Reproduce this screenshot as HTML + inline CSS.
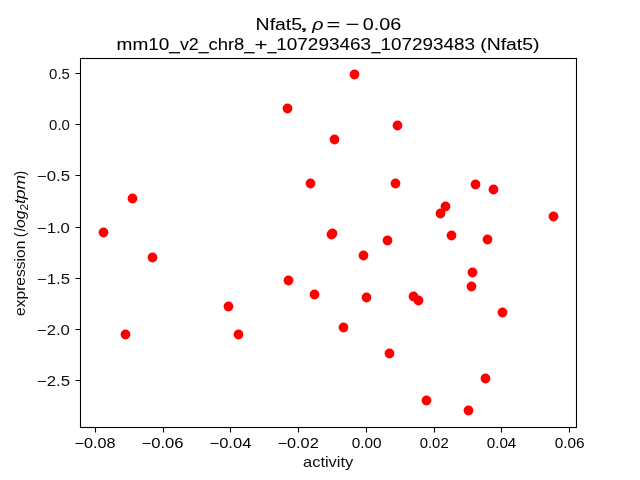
<!DOCTYPE html>
<html lang="en">
<head>
<meta charset="utf-8">
<title>Nfat5 activity vs expression</title>
<style>
html,body{margin:0;padding:0;background:#fff;}
body{width:640px;height:480px;overflow:hidden;font-family:"Liberation Sans",sans-serif;}
svg{display:block;will-change:transform;}
text{font-family:"Liberation Sans",sans-serif;fill:#000;}
.title text{stroke:#000;stroke-width:0.07px;}
.yticklabels text,.xlabel text,.ylabel text{fill:#0e0e0e;}
.dots circle{fill:#ff0000;}
.frame,.ticks path{stroke:#000;fill:none;}
</style>
</head>
<body>
<svg width="640" height="480" viewBox="0 0 640 480">
<rect x="0" y="0" width="640" height="480" fill="#ffffff"/>
<g class="title">
<text y="30.0" font-size="17.0"><tspan x="255.60" textLength="46.51" lengthAdjust="spacingAndGlyphs">Nfat5</tspan><tspan x="298.70" textLength="10.19" lengthAdjust="spacingAndGlyphs">,</tspan> <tspan x="312.18" font-style="italic" textLength="11.22" lengthAdjust="spacingAndGlyphs">ρ</tspan> <tspan x="326.55" textLength="13.70" lengthAdjust="spacingAndGlyphs">=</tspan> <tspan x="345.52" textLength="13.94" lengthAdjust="spacingAndGlyphs">−</tspan><tspan x="362.73" textLength="38.44" lengthAdjust="spacingAndGlyphs">0.06</tspan></text>
<text y="50.0" font-size="17.0"><tspan x="116.64" textLength="63.25" lengthAdjust="spacingAndGlyphs">mm10_</tspan><tspan x="179.94" textLength="28.66" lengthAdjust="spacingAndGlyphs">v2_</tspan><tspan x="208.52" textLength="46.08" lengthAdjust="spacingAndGlyphs">chr8_</tspan><tspan x="254.61" textLength="12.98" lengthAdjust="spacingAndGlyphs">+</tspan><tspan x="267.54" textLength="8.97" lengthAdjust="spacingAndGlyphs">_</tspan><tspan x="276.26" textLength="94.88" lengthAdjust="spacingAndGlyphs">107293463</tspan><tspan x="371.54" textLength="8.97" lengthAdjust="spacingAndGlyphs">_</tspan><tspan x="380.56" textLength="94.47" lengthAdjust="spacingAndGlyphs">107293483</tspan> <tspan x="480.20" textLength="59.31" lengthAdjust="spacingAndGlyphs">(Nfat5)</tspan></text>
</g>
<g class="dots">
<circle cx="132.5" cy="198.5" r="4.88"/>
<circle cx="103.5" cy="232.5" r="4.88"/>
<circle cx="152.5" cy="257.5" r="4.88"/>
<circle cx="125.5" cy="334.5" r="4.88"/>
<circle cx="228.5" cy="306.5" r="4.88"/>
<circle cx="238.5" cy="334.5" r="4.88"/>
<circle cx="354.5" cy="74.5" r="4.88"/>
<circle cx="287.5" cy="108.5" r="4.88"/>
<circle cx="334.5" cy="139.5" r="4.88"/>
<circle cx="397.5" cy="125.5" r="4.88"/>
<circle cx="310.5" cy="183.5" r="4.88"/>
<circle cx="395.5" cy="183.5" r="4.88"/>
<circle cx="331.5" cy="234.5" r="4.88"/>
<circle cx="332.5" cy="233.5" r="4.88"/>
<circle cx="387.5" cy="240.5" r="4.88"/>
<circle cx="363.5" cy="255.5" r="4.88"/>
<circle cx="288.5" cy="280.5" r="4.88"/>
<circle cx="314.5" cy="294.5" r="4.88"/>
<circle cx="366.5" cy="297.5" r="4.88"/>
<circle cx="343.5" cy="327.5" r="4.88"/>
<circle cx="389.5" cy="353.5" r="4.88"/>
<circle cx="475.5" cy="184.5" r="4.88"/>
<circle cx="493.5" cy="189.5" r="4.88"/>
<circle cx="445.5" cy="206.5" r="4.88"/>
<circle cx="440.5" cy="213.5" r="4.88"/>
<circle cx="553.5" cy="216.5" r="4.88"/>
<circle cx="451.5" cy="235.5" r="4.88"/>
<circle cx="487.5" cy="239.5" r="4.88"/>
<circle cx="472.5" cy="272.5" r="4.88"/>
<circle cx="471.5" cy="286.5" r="4.88"/>
<circle cx="413.5" cy="296.5" r="4.88"/>
<circle cx="418.5" cy="300.5" r="4.88"/>
<circle cx="502.5" cy="312.5" r="4.88"/>
<circle cx="485.5" cy="378.5" r="4.88"/>
<circle cx="426.5" cy="400.5" r="4.88"/>
<circle cx="468.5" cy="410.5" r="4.88"/>
</g>
<rect class="frame" x="80.5" y="58.5" width="496" height="369" stroke-width="1.1"/>
<g class="ticks" stroke-width="1.1">
<path d="M95.5 428V432.5M163.5 428V432.5M230.5 428V432.5M298.5 428V432.5M366.5 428V432.5M434.5 428V432.5M501.5 428V432.5M569.5 428V432.5"/>
<path d="M80 73.5H75.5M80 124.5H75.5M80 175.5H75.5M80 227.5H75.5M80 278.5H75.5M80 329.5H75.5M80 380.5H75.5"/>
</g>
<g class="xticklabels">
<text x="74.50" y="448.00" font-size="14.10" textLength="41.11" lengthAdjust="spacingAndGlyphs">−0.08</text>
<text x="141.48" y="448.00" font-size="14.10" textLength="42.15" lengthAdjust="spacingAndGlyphs">−0.06</text>
<text x="209.48" y="448.00" font-size="14.10" textLength="41.90" lengthAdjust="spacingAndGlyphs">−0.04</text>
<text x="277.50" y="448.00" font-size="14.10" textLength="41.22" lengthAdjust="spacingAndGlyphs">−0.02</text>
<text x="351.70" y="448.00" font-size="14.10" textLength="29.80" lengthAdjust="spacingAndGlyphs">0.00</text>
<text x="419.72" y="448.00" font-size="14.10" textLength="28.93" lengthAdjust="spacingAndGlyphs">0.02</text>
<text x="486.71" y="448.00" font-size="14.10" textLength="29.64" lengthAdjust="spacingAndGlyphs">0.04</text>
<text x="554.70" y="448.00" font-size="14.10" textLength="29.87" lengthAdjust="spacingAndGlyphs">0.06</text>
</g>
<g class="yticklabels">
<text x="49.12" y="79.00" font-size="14.10" textLength="20.81" lengthAdjust="spacingAndGlyphs">0.5</text>
<text x="49.12" y="130.00" font-size="14.10" textLength="20.77" lengthAdjust="spacingAndGlyphs">0.0</text>
<text x="36.87" y="181.00" font-size="14.10" textLength="33.13" lengthAdjust="spacingAndGlyphs">−0.5</text>
<text x="36.87" y="233.00" font-size="14.10" textLength="33.08" lengthAdjust="spacingAndGlyphs">−1.0</text>
<text x="36.87" y="284.00" font-size="14.10" textLength="33.13" lengthAdjust="spacingAndGlyphs">−1.5</text>
<text x="36.87" y="335.00" font-size="14.10" textLength="33.08" lengthAdjust="spacingAndGlyphs">−2.0</text>
<text x="36.87" y="386.00" font-size="14.10" textLength="33.13" lengthAdjust="spacingAndGlyphs">−2.5</text>
</g>
<g class="xlabel"><text x="303.00" y="467.00" font-size="14.10" textLength="50.33" lengthAdjust="spacingAndGlyphs">activity</text></g>
<g class="ylabel" transform="translate(25.00 0) rotate(-90)">
<text font-size="14.10"><tspan x="-315.96" y="0.00" textLength="75.27" lengthAdjust="spacingAndGlyphs">expression</tspan> <tspan x="-237.39" y="0.00" textLength="4.77" lengthAdjust="spacingAndGlyphs">(</tspan><tspan x="-231.55" y="0.00" font-style="italic" textLength="20.99" lengthAdjust="spacingAndGlyphs">log</tspan><tspan x="-210.51" y="2.50" font-size="11.56" textLength="6.71" lengthAdjust="spacingAndGlyphs">2</tspan><tspan x="-204.10" y="0.00" font-style="italic" textLength="29.21" lengthAdjust="spacingAndGlyphs">tpm</tspan><tspan x="-175.58" y="0.00" textLength="4.77" lengthAdjust="spacingAndGlyphs">)</tspan></text>
</g>
</svg>
</body>
</html>
